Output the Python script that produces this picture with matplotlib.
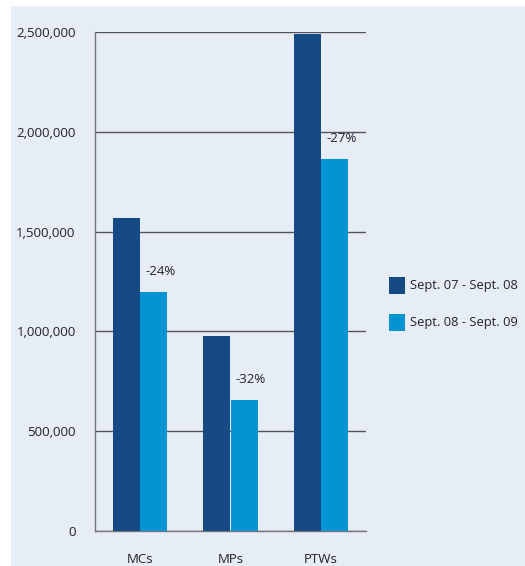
import matplotlib.pyplot as plt
import matplotlib.patches as mpatches
from matplotlib.ticker import FuncFormatter
import numpy as np

categories = ['MCs', 'MPs', 'PTWs']
period1 = [1568000, 977000, 2490000]
period2 = [1197000, 656000, 1864000]
changes = ['-24%', '-32%', '-27%']
series_names = ['Sept. 07 - Sept. 08', 'Sept. 08 - Sept. 09']

DARK = '#154a85'
LIGHT = '#0494d3'
BG = '#e6edf7'

plt.rcParams['font.family'] = ['Open Sans', 'DejaVu Sans']

W, H = 525, 566
fig = plt.figure(figsize=(W / 100, H / 100), dpi=100)
fig.patch.set_facecolor('white')
fig.patches.append(mpatches.Rectangle((11 / W, 0), 1, (H - 6) / H, transform=fig.transFigure,
                                      facecolor=BG, edgecolor='none', zorder=-10))

ax = fig.add_axes([95 / W, (H - 531) / H, (366 - 95) / W, (531 - 32) / H])
ax.patch.set_alpha(0)

x = np.arange(len(categories))
w = 0.3
ax.bar(x - w / 2, period1, w, color=DARK, zorder=3, label=series_names[0])
ax.bar(x + w / 2, period2, w, color=LIGHT, zorder=3, label=series_names[1])

for xi, v, lab in zip(x, period2, changes):
    ax.annotate(lab, (xi + w / 2, v), xytext=(5, 10), textcoords='offset points',
                ha='center', va='bottom', fontsize=9.5, color='#222222')

ax.set_xlim(-0.5, 2.5)
ax.set_ylim(0, 2500000)
ax.set_yticks(np.arange(0, 2500001, 500000))
ax.yaxis.set_major_formatter(FuncFormatter(lambda v, p: f'{int(v):,}'))
ax.set_xticks(x)
ax.set_xticklabels(categories)
ax.tick_params(axis='both', length=0, labelsize=9.5, colors='#222222')
ax.tick_params(axis='y', pad=14)
ax.tick_params(axis='x', pad=16)
ax.grid(axis='y', color='#555555', linewidth=1, zorder=1)
for s in ['top', 'right']:
    ax.spines[s].set_visible(False)
for s in ['left', 'bottom']:
    ax.spines[s].set_color('#777777')
    ax.spines[s].set_linewidth(1)

# legend drawn by hand, placed like the original, text kept inside the figure
for i, (name, col) in enumerate(zip(series_names, [DARK, LIGHT])):
    y_top = 277 + i * 37
    fig.patches.append(mpatches.Rectangle((389 / W, (H - y_top - 17) / H), 16 / W, 17 / H,
                                          transform=fig.transFigure, facecolor=col, edgecolor='none'))
    fig.text(410 / W, (H - y_top - 8.5) / H, name, ha='left', va='center', fontsize=9.3, color='#222222')

fig.savefig('out.png', dpi=100)
